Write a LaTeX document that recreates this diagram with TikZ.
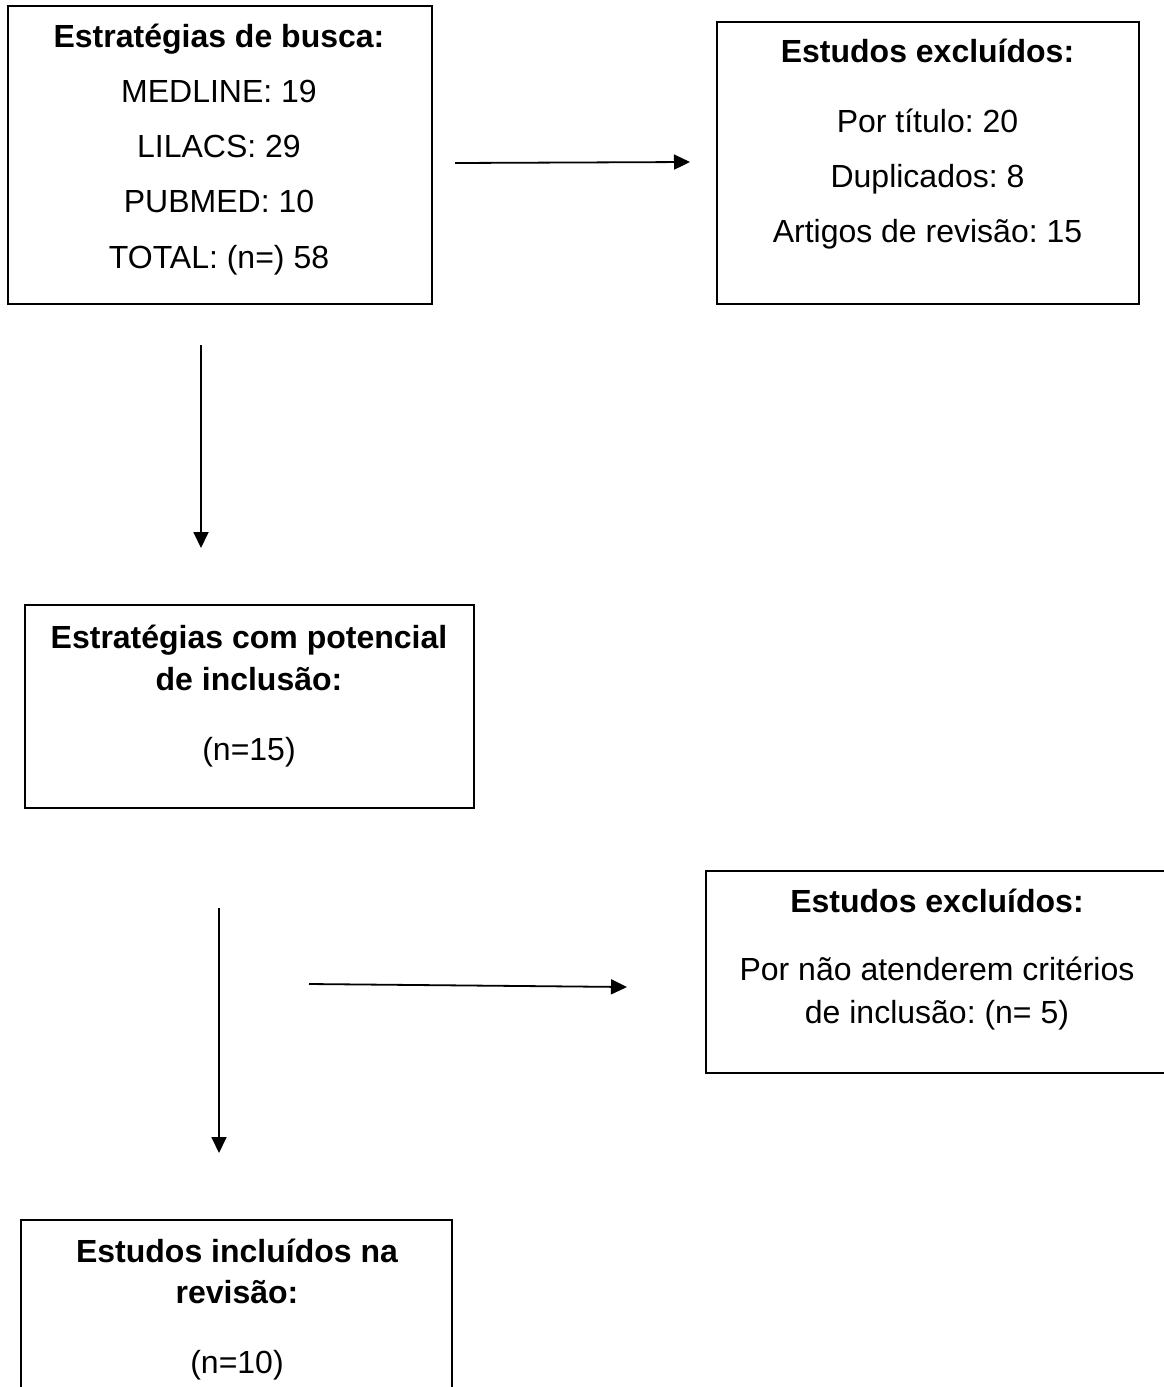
\documentclass[tikz,border=0pt]{standalone}
\usepackage{fontspec}
\setmainfont{Liberation Sans}
\usetikzlibrary{arrows.meta}
\frenchspacing
\tikzset{
  boxnode/.style={draw=black, line width=1.6pt, inner sep=0pt, rectangle},
  txt/.style={anchor=base, inner sep=0pt, font=\fontsize{32}{38}\selectfont},
  ttl/.style={anchor=base, inner sep=0pt, font=\fontsize{32}{38}\selectfont\bfseries},
  conn/.style={line width=1.8pt, -{Triangle[length=16pt,width=15pt]}}
}
\begin{document}
\begin{tikzpicture}[x=1pt,y=-1pt]
\useasboundingbox (0,0) rectangle (1163,1387);
% boxes
\node[boxnode, minimum width=424pt, minimum height=298pt] (b1) at (220,155) {};
\node[boxnode, minimum width=422pt, minimum height=282pt] (b2) at (928,163) {};
\node[boxnode, minimum width=449pt, minimum height=203pt] (b3) at (249.5,706.5) {};
\node[boxnode, minimum width=469pt, minimum height=202pt] (b4) at (940.5,972) {};
\node[boxnode, minimum width=431pt, minimum height=180pt] (b5) at (236.5,1310) {};
% texts box 1
\node[ttl] (t1a) at (219,47) {Estratégias de busca:};
\node[txt] (t1b) at (219,102) {MEDLINE: 19};
\node[txt] (t1c) at (219,157) {LILACS: 29};
\node[txt] (t1d) at (219,212) {PUBMED: 10};
\node[txt] (t1e) at (219,268) {TOTAL: (n=) 58};
% box 2
\node[ttl] (t2a) at (927.5,62) {Estudos excluídos:};
\node[txt] (t2b) at (927.5,132) {Por título: 20};
\node[txt] (t2c) at (927.5,187) {Duplicados: 8};
\node[txt] (t2d) at (927.5,242) {Artigos de revisão: 15};
% box 3
\node[ttl] (t3a) at (249,648) {Estratégias com potencial};
\node[ttl] (t3b) at (249,690) {de inclusão:};
\node[txt] (t3c) at (249,760) {(n=15)};
% box 4
\node[ttl] (t4a) at (937,912) {Estudos excluídos:};
\node[txt] (t4b) at (937,980) {Por não atenderem critérios};
\node[txt] (t4c) at (937,1023) {de inclusão: (n= 5)};
% box 5
\node[ttl] (t5a) at (237,1262) {Estudos incluídos na};
\node[ttl] (t5b) at (237,1303) {revisão:};
\node[txt] (t5c) at (237,1373) {(n=10)};
% connector ends
\coordinate (a1s) at (455,163);
\coordinate (a1e) at (690,162);
\coordinate (d1s) at (201,345);
\coordinate (d1e) at (201,548);
\coordinate (d2s) at (219,908);
\coordinate (d2e) at (219,1153);
\coordinate (a2s) at (309,984);
\coordinate (a2e) at (627,987);
\draw[conn] (a1s) -- (a1e);
\draw[conn] (d1s) -- (d1e);
\draw[conn] (d2s) -- (d2e);
\draw[conn] (a2s) -- (a2e);
\end{tikzpicture}
\end{document}
